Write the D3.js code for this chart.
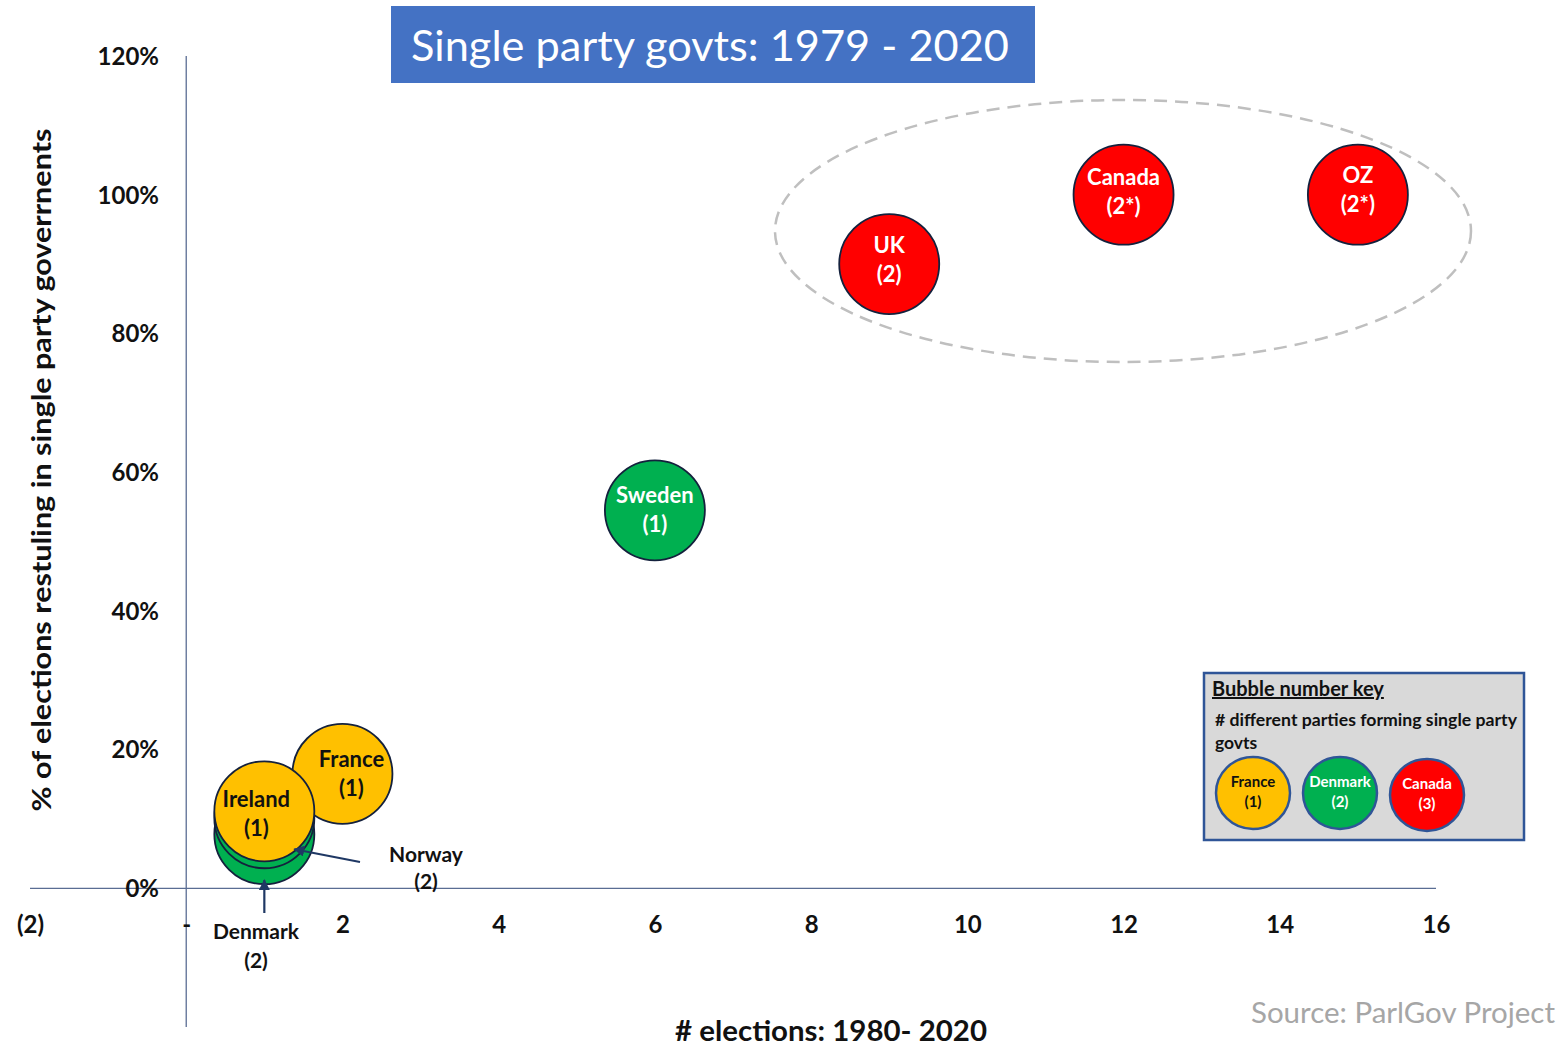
<!DOCTYPE html>
<html><head><meta charset="utf-8">
<script src="https://cdn.jsdelivr.net/npm/d3@7"></script>
<style>
body{margin:0;background:#fff;}
svg{font-family:Lato,"Open Sans",sans-serif;}
</style></head>
<body><svg id="c" width="1557" height="1046"></svg>
<script>
// ---- data ----
const countries = ["UK","Canada","OZ","Sweden","France","Denmark","Norway","Ireland"];
const elections = [9, 12, 15, 6, 2, 1, 1, 1];
const pctSingle = [90, 100, 100, 54.5, 16.5, 7.8, 10.1, 11.1];
const partyLabels = ["(2)","(2*)","(2*)","(1)","(1)","(2)","(2)","(1)"];
const partyGroup = [3, 3, 3, 2, 1, 2, 2, 1];
const showLabel = [true,true,true,true,true,false,false,true];
const xTicks = [-2,0,2,4,6,8,10,12,14,16];
const yTicks = [0,20,40,60,80,100,120];
const keyNames = ["France","Denmark","Canada"];
const keyNums = ["(1)","(2)","(3)"];
const keyGroups = [1,2,3];

// ---- styles ----
const fillOf = {1:"#FFC000",2:"#00B050",3:"#FF0000"};
const textOf = {1:"#111",2:"#fff",3:"#fff"};
const labelShift = {UK:[0,-4],OZ:[0,-4],Ireland:[-8,3],France:[9,0],Canada:[0,-2]};

const svg = d3.select("#c");
const x = d3.scaleLinear().domain([-2,16]).range([30,1436]);
const y = d3.scaleLinear().domain([-20,120]).range([1027,56]);
const axisCol = "#5a6d93";

// axes lines
svg.append("line").attr("x1",x(0)).attr("x2",x(0)).attr("y1",y(120)).attr("y2",y(-20))
  .attr("stroke",axisCol).attr("stroke-width",1.3);
svg.append("line").attr("x1",x(-2)).attr("x2",x(16)).attr("y1",y(0)).attr("y2",y(0))
  .attr("stroke",axisCol).attr("stroke-width",1.3);

// y axis labels
const yAxis = d3.axisLeft(y).tickValues(yTicks).tickFormat(d=>d+"%").tickSize(0).tickPadding(0);
const ga = svg.append("g").attr("transform",`translate(159,0)`).call(yAxis);
ga.select(".domain").remove();
ga.selectAll("text").attr("font-family","Lato,sans-serif").attr("font-size",24).attr("font-weight","bold").attr("fill","#111").attr("dy","0.35em");

// x axis labels
const fmtX = d => d<0 ? "("+(-d)+")" : (d===0 ? "-" : String(d));
const xAxis = d3.axisBottom(x).tickValues(xTicks).tickFormat(fmtX).tickSize(0).tickPadding(0);
const gx = svg.append("g").attr("transform",`translate(0,925)`).call(xAxis);
gx.select(".domain").remove();
gx.selectAll("text").attr("font-family","Lato,sans-serif").attr("font-size",24).attr("font-weight","bold").attr("fill","#111").attr("dy","0.35em");

// dashed ellipse
svg.append("ellipse").attr("cx",1123).attr("cy",231).attr("rx",348).attr("ry",131)
  .attr("fill","none").attr("stroke","#bfbfbf").attr("stroke-width",2.5).attr("stroke-dasharray","13,8");

// bubbles
const data = countries.map((c,i)=>({c, x:elections[i], y:pctSingle[i], lab:partyLabels[i], g:partyGroup[i], show:showLabel[i]}));
const R = 50;
const bg = svg.append("g");
data.forEach(d=>{
  const g = bg.append("g").attr("transform",`translate(${x(d.x)},${y(d.y)})`);
  g.append("circle").attr("r",R).attr("fill",fillOf[d.g]).attr("stroke","#14213d").attr("stroke-width",1.8);
  if(d.show){
    const s = labelShift[d.c] || [0,0];
    g.append("text").attr("text-anchor","middle").attr("x",s[0]).attr("y",-15+s[1]).attr("dy","0.35em")
      .attr("font-size",22).attr("font-weight","bold").attr("fill",textOf[d.g]).text(d.c);
    g.append("text").attr("text-anchor","middle").attr("x",s[0]).attr("y",14+s[1]).attr("dy","0.35em")
      .attr("font-size",22).attr("font-weight","bold").attr("fill",textOf[d.g]).text(d.lab);
  }
});

// arrows
const defs = svg.append("defs");
defs.append("marker").attr("id","ah").attr("viewBox","0 0 10 10").attr("refX",9).attr("refY",5)
  .attr("markerWidth",5).attr("markerHeight",5).attr("orient","auto")
  .append("path").attr("d","M0,0 L10,5 L0,10 z").attr("fill","#1f3864");
const arrCol = "#1f3864";
const nor = data.find(d=>d.c==="Norway"), den = data.find(d=>d.c==="Denmark");
svg.append("line").attr("x1",360).attr("y1",862).attr("x2",x(nor.x)+30).attr("y2",y(nor.y)+31)
  .attr("stroke",arrCol).attr("stroke-width",2.2).attr("marker-end","url(#ah)");
svg.append("line").attr("x1",x(den.x)).attr("y1",913).attr("x2",x(den.x)).attr("y2",y(den.y)+46)
  .attr("stroke",arrCol).attr("stroke-width",2.2).attr("marker-end","url(#ah)");
const ann = (t,xx,yy)=>svg.append("text").attr("x",xx).attr("y",yy).attr("text-anchor","middle").attr("dy","0.35em")
  .attr("font-size",21).attr("font-weight","bold").attr("fill","#111").text(t);
ann("Norway",426,855); ann("(2)",426,882);
ann("Denmark",256,932); ann("(2)",256,961);

// title
svg.append("rect").attr("x",391).attr("y",6).attr("width",644).attr("height",77).attr("fill","#4472C4");
svg.append("text").attr("x",710).attr("y",46).attr("text-anchor","middle").attr("dy","0.35em")
  .attr("font-size",42).attr("fill","#fff").attr("textLength",598).attr("lengthAdjust","spacingAndGlyphs")
  .text("Single party govts: 1979 - 2020");

// axis titles
svg.append("text").attr("x",831).attr("y",1031).attr("text-anchor","middle").attr("dy","0.35em")
  .attr("font-size",28).attr("font-weight","bold").attr("fill","#111").attr("textLength",312).attr("lengthAdjust","spacingAndGlyphs")
  .text("# elections: 1980- 2020");
svg.append("text").attr("transform","translate(42,470) rotate(-90)").attr("text-anchor","middle").attr("dy","0.35em")
  .attr("font-size",26).attr("font-weight","bold").attr("fill","#111").attr("textLength",683).attr("lengthAdjust","spacingAndGlyphs")
  .text("% of elections restuling in single party goverrnents");

// source
svg.append("text").attr("x",1555).attr("y",1013).attr("text-anchor","end").attr("dy","0.35em")
  .attr("font-size",28).attr("fill","#a6a6a6").attr("textLength",304).attr("lengthAdjust","spacingAndGlyphs")
  .text("Source: ParlGov Project");

// legend key
const kg = svg.append("g");
kg.append("rect").attr("x",1204).attr("y",673).attr("width",320).attr("height",167)
  .attr("fill","#d9d9d9").attr("stroke","#2f5597").attr("stroke-width",2.5);
kg.append("text").attr("x",1212).attr("y",689).attr("dy","0.35em").attr("font-size",20).attr("font-weight","bold")
  .attr("fill","#111").attr("text-decoration","underline").text("Bubble number key");
kg.append("text").attr("x",1215).attr("y",720).attr("dy","0.35em").attr("font-size",17.5).attr("font-weight","bold")
  .attr("fill","#111").attr("textLength",302).attr("lengthAdjust","spacingAndGlyphs").text("# different parties forming single party");
kg.append("text").attr("x",1215).attr("y",743).attr("dy","0.35em").attr("font-size",17.5).attr("font-weight","bold")
  .attr("fill","#111").text("govts");
const kx = [1253,1340,1427], ky=[793,793,795];
keyNames.forEach((n,i)=>{
  const g = kg.append("g").attr("transform",`translate(${kx[i]},${ky[i]})`);
  g.append("ellipse").attr("rx",37).attr("ry",36).attr("fill",fillOf[keyGroups[i]]).attr("stroke","#2f5597").attr("stroke-width",2.5);
  g.append("text").attr("text-anchor","middle").attr("y",-11).attr("dy","0.35em").attr("font-size",15).attr("font-weight","bold")
    .attr("fill",textOf[keyGroups[i]]).text(n);
  g.append("text").attr("text-anchor","middle").attr("y",9).attr("dy","0.35em").attr("font-size",15).attr("font-weight","bold")
    .attr("fill",textOf[keyGroups[i]]).text(keyNums[i]);
});
</script></body></html>
